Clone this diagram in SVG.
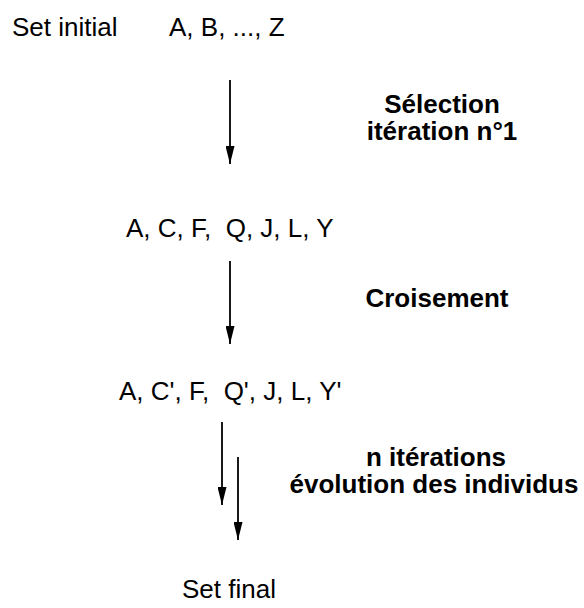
<svg xmlns="http://www.w3.org/2000/svg" width="584" height="608" viewBox="0 0 584 608">
<style>
text{font-family:"Liberation Sans",Arial,sans-serif;font-size:26px;fill:#000;white-space:pre}
.b{font-weight:bold;text-anchor:middle}
.c{stroke:#000;stroke-width:1.8;fill:none}
</style>
<defs>
<marker id="ah" markerUnits="userSpaceOnUse" viewBox="0 0 18 9" refX="18" refY="4.5" markerWidth="18" markerHeight="9" orient="auto"><path d="M0,0 L18,4.5 L0,9 Z" fill="#000"/></marker>
</defs>
<rect width="584" height="608" fill="#fff"/>
<g id="set-initial"><text x="12" y="36">Set initial</text></g>
<g id="set-abz"><text x="169" y="36">A, B, ..., Z</text></g>
<g id="label-selection"><text class="b" x="442" y="113">Sélection</text><text class="b" x="442" y="140">itération n°1</text></g>
<g id="set-selected"><text x="126" y="237" xml:space="preserve">A, C, F,  Q, J, L, Y</text></g>
<g id="label-croisement"><text class="b" x="437" y="307">Croisement</text></g>
<g id="set-crossed"><text x="119" y="400" xml:space="preserve">A, C', F,  Q', J, L, Y'</text></g>
<g id="label-iterations"><text class="b" x="436" y="466">n itérations</text><text class="b" x="434" y="493">évolution des individus</text></g>
<g id="set-final"><text x="182" y="598">Set final</text></g>
<g id="connectors">
<line class="c" x1="230" y1="80" x2="230" y2="164" marker-end="url(#ah)"/>
<line class="c" x1="230" y1="261" x2="230" y2="344" marker-end="url(#ah)"/>
<line class="c" x1="222" y1="422" x2="222" y2="505" marker-end="url(#ah)"/>
<line class="c" x1="238" y1="457" x2="238" y2="540" marker-end="url(#ah)"/>
</g>
</svg>
